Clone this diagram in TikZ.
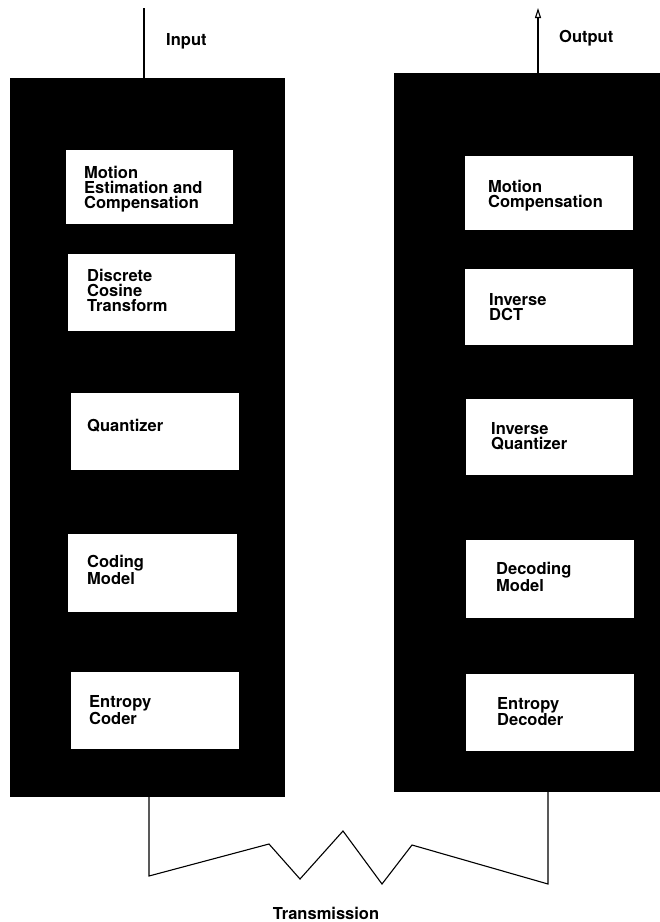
\documentclass[tikz,border=0pt]{standalone}
\usepackage{fontspec}
\setmainfont{TeX Gyre Heros}
\usetikzlibrary{arrows.meta}
\begin{document}
\begin{tikzpicture}[x=1pt,y=-1pt,
  panel/.style={fill=black,draw=none,inner sep=0pt,outer sep=0pt,anchor=north west},
  wbox/.style={fill=white,draw=none,inner sep=0pt,outer sep=0pt,anchor=north west},
  lbl/.style={inner sep=0pt,anchor=north west,align=left,font=\fontsize{16.5}{14.8}\selectfont\bfseries},
  wire/.style={line width=1.1pt,line join=miter}
]
\useasboundingbox (0,0) rectangle (660,922);
% panels
\node[panel,minimum width=275pt,minimum height=719pt] (lp) at (10,78) {};
\node[panel,minimum width=266pt,minimum height=719pt] (rp) at (394,73) {};
% encoder boxes
\node[wbox,minimum width=167pt,minimum height=74pt] (l1) at (66,150) {};
\node[wbox,minimum width=167pt,minimum height=77pt] (l2) at (68,254) {};
\node[wbox,minimum width=168pt,minimum height=77pt] (l3) at (71,393) {};
\node[wbox,minimum width=169pt,minimum height=78pt] (l4) at (68,534) {};
\node[wbox,minimum width=168pt,minimum height=77pt] (l5) at (71,672) {};
% decoder boxes
\node[wbox,minimum width=168pt,minimum height=74pt] (r1) at (465,156) {};
\node[wbox,minimum width=168pt,minimum height=76pt] (r2) at (465,269) {};
\node[wbox,minimum width=167pt,minimum height=76pt] (r3) at (466,399) {};
\node[wbox,minimum width=168pt,minimum height=78pt] (r4) at (466,540) {};
\node[wbox,minimum width=168pt,minimum height=77pt] (r5) at (466,674) {};
% texts
\node[lbl] (tl1) at (84,166) {Motion\\Estimation and\\Compensation};
\node[lbl] (tl2) at (87,269) {Discrete\\Cosine\\Transform};
\node[lbl] (tl3) at (87,419) {Quantizer};
\node[lbl] (tl4) at (87,555) {Coding\\Model};
\node[lbl] (tl5) at (89,695) {Entropy\\Coder};
\node[lbl] (tr1) at (488,180) {Motion\\Compensation};
\node[lbl] (tr2) at (489,293) {Inverse\\DCT};
\node[lbl] (tr3) at (491,422) {Inverse\\Quantizer};
\node[lbl] (tr4) at (496,562) {Decoding\\Model};
\node[lbl] (tr5) at (497,697) {Entropy\\Decoder};
% outer labels
\node[lbl] (inlbl) at (166,33) {Input};
\node[lbl] (outlbl) at (559,30) {Output};
\node[lbl,anchor=north] (trlbl) at (326,907) {Transmission};
% input / output
\coordinate (inTop) at (144,8);
\coordinate (outTop) at (538,8);
\draw[wire] (inTop) -- (inTop |- lp.north);
\draw[wire,-{Triangle[open,length=10pt,width=6pt]}] (outTop |- rp.north) -- (outTop);
% transmission line
\coordinate (z0) at (149,876);
\coordinate (z1) at (269,844);
\coordinate (z2) at (300,879);
\coordinate (z3) at (343,831);
\coordinate (z4) at (382,884);
\coordinate (z5) at (412,845);
\coordinate (z6) at (548,884);
\draw[wire] (lp.south -| z0) -- (z0) -- (z1) -- (z2) -- (z3) -- (z4) -- (z5) -- (z6) -- (rp.south -| z6);
\end{tikzpicture}
\end{document}
